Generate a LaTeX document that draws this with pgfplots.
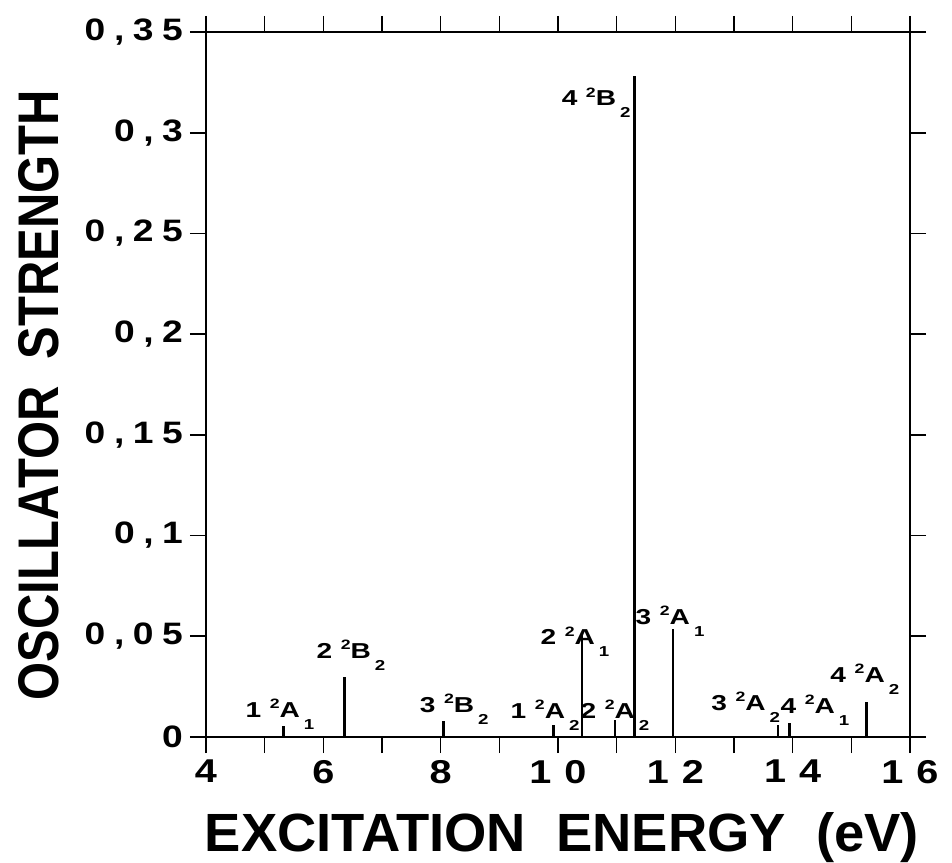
\documentclass[border=0pt]{standalone}
\usepackage{fontspec}
\setmainfont{Liberation Sans}
\newfontfamily\tickfont{Liberation Sans}[FakeStretch=1.2]
\newfontfamily\stfont{Liberation Sans}[FakeStretch=1.3]
\usepackage{pgfplots}
\pgfplotsset{compat=1.18}

% spacing used inside the tick labels
\newcommand\sk{\kern4.3pt}
\newcommand\xk{\kern6.5pt}
% state label: n ^2 X _k
\newcommand\st[3]{{\stfont\bfseries\fontsize{10.8}{12}\selectfont #1\kern4.3pt\raisebox{4.2pt}{\fontsize{6.8}{6.8}\selectfont 2}#2\kern2pt\raisebox{-6pt}{\fontsize{7.2}{7.2}\selectfont #3}}}

\begin{document}
\begin{tikzpicture}
\begin{axis}[
    name=ax,
    scale only axis,
    width=352pt, height=352.5pt,
    xmin=4, xmax=16, ymin=0, ymax=0.35,
    xtick={4,6,8,10,12,14,16},
    minor xtick={5,7,9,11,13,15},
    xticklabels={4,6,8,1\xk0,1\xk2,1\xk4,1\xk6},
    ytick={0,0.05,0.1,0.15,0.2,0.25,0.3,0.35},
    yticklabels={0,{0\sk,\sk0\sk5},{0\sk,\sk1},{0\sk,\sk1\sk5},{0\sk,\sk2},{0\sk,\sk2\sk5},{0\sk,\sk3},{0\sk,\sk3\sk5}},
    tick align=outside,
    major tick length=8pt, minor tick length=8pt,
    tick style={black, line width=0.8pt},
    axis line style={line width=0.8pt},
    xticklabel style={font=\tickfont\bfseries\fontsize{16.5}{16}\selectfont},
    yticklabel style={font=\tickfont\bfseries\fontsize{15.5}{16}\selectfont},
    clip=false,
]
% oscillator strengths
\addplot[ycomb, black, line width=1.3pt, mark=none] coordinates {
    (5.32,0.0055) (8.05,0.0080) (9.92,0.0058) (10.41,0.0523)
    (10.97,0.0084) (11.96,0.0534) (13.75,0.0060) (13.95,0.0068)
    (15.26,0.0172)
};
\addplot[ycomb, black, line width=1.6pt, mark=none] coordinates {
    (6.36,0.0300) (11.31,0.3280)
};

\node[anchor=base] at (axis cs:5.26,0.0099) {\st{1}{A}{1}};
\node[anchor=base] at (axis cs:6.47,0.0392) {\st{2}{B}{2}};
\node[anchor=base] at (axis cs:8.23,0.0124) {\st{3}{B}{2}};
\node[anchor=base] at (axis cs:9.78,0.0094) {\st{1}{A}{2}};
\node[anchor=base] at (axis cs:10.29,0.0457) {\st{2}{A}{1}};
\node[anchor=base] at (axis cs:10.97,0.0094) {\st{2}{A}{2}};
\node[anchor=base] at (axis cs:10.65,0.3133) {\st{4}{B}{2}};
\node[anchor=base] at (axis cs:11.91,0.0561) {\st{3}{A}{1}};
\node[anchor=base] at (axis cs:13.20,0.0134) {\st{3}{A}{2}};
\node[anchor=base] at (axis cs:14.38,0.0119) {\st{4}{A}{1}};
\node[anchor=base] at (axis cs:15.23,0.0273) {\st{4}{A}{2}};

\node[anchor=base] at (rel axis cs:0.5057,-0.162)
    {\resizebox{357pt}{19.5pt}{\bfseries EXCITATION\ \ ENERGY\ \ (eV)}};
\node[anchor=base, rotate=90] at (rel axis cs:-0.2102,0.485)
    {\resizebox{305pt}{20pt}{\bfseries OSCILLATOR\ \ STRENGTH}};
\end{axis}
\pgfresetboundingbox
\path ([xshift=-103pt,yshift=-62.5pt]ax.south west) rectangle ([xshift=21pt,yshift=16pt]ax.north east);
\end{tikzpicture}
\end{document}
